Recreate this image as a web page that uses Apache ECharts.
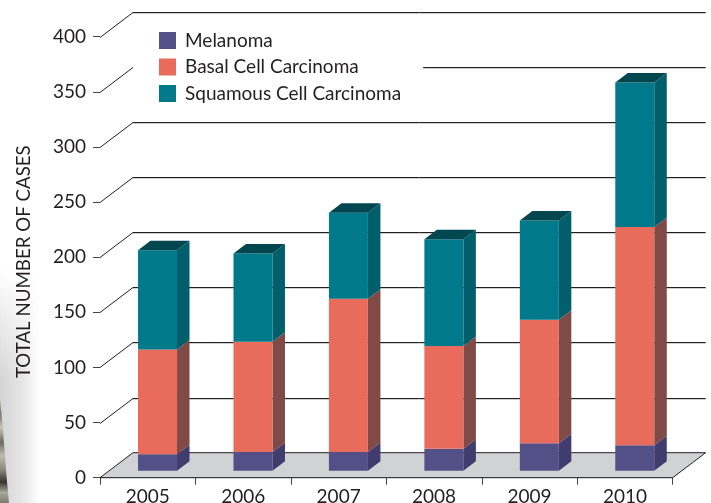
<!DOCTYPE html>
<html>
<head>
<meta charset="utf-8">
<style>html,body{margin:0;padding:0;background:#fff}#chart{width:711px;height:503px}</style>
<script src="https://cdn.jsdelivr.net/npm/echarts@6/dist/echarts.min.js"></script>
</head>
<body>
<div id="chart"></div>
<script>
const years = ['2005', '2006', '2007', '2008', '2009', '2010'];
const melanoma = [15, 17, 17, 20, 25, 23];
const basalCell = [95, 100, 139, 93, 112, 198];
const squamousCell = [90, 80, 78, 97, 90, 131];
const gridValues = [50, 100, 150, 200, 250, 300, 350, 400];

const FONT = 'Lato';
// Oblique projection of the chart box: full floor depth and single bar depth.
const FLOOR_DX = 33, FLOOR_DY = 25;
const BAR_DX = 12.5, BAR_DY = 9.5;
const BAR_W = 39, BAR_SHIFT_X = 9.8, BAR_SHIFT_Y = 7;

function stackRows(own, below) {
  return own.map((v, i) => {
    const start = below.reduce((s, arr) => s + arr[i], 0);
    return [i, start, start + v];
  });
}

function poly(points, fill) {
  return { type: 'polygon', shape: { points }, style: { fill, stroke: null } };
}

function barRenderer(front, side, top) {
  return function (params, api) {
    const c0 = api.coord([api.value(0), api.value(1)]);
    const c1 = api.coord([api.value(0), api.value(2)]);
    const xl = c0[0] + BAR_SHIFT_X - BAR_W / 2, xr = xl + BAR_W;
    const yb = c0[1] - BAR_SHIFT_Y, yt = c1[1] - BAR_SHIFT_Y;
    const children = [
      poly([[xr, yb], [xr + BAR_DX, yb - BAR_DY], [xr + BAR_DX, yt - BAR_DY], [xr, yt]], side),
      poly([[xl, yb], [xr, yb], [xr, yt], [xl, yt]], front)
    ];
    if (top) {
      children.push(poly([[xl, yt], [xr, yt], [xr + BAR_DX, yt - BAR_DY], [xl + BAR_DX, yt - BAR_DY]], top));
    }
    return { type: 'group', children };
  };
}

function barSeries(name, rows, front, side, top) {
  return {
    name, type: 'custom', data: rows, z: 5,
    itemStyle: { color: front },
    renderItem: barRenderer(front, side, top)
  };
}

function renderWallLine(params, api) {
  const box = params.coordSys;
  const y = Math.round(api.coord([0, api.value(0)])[1]) + 0.5;
  const x0 = box.x, x1 = box.x + FLOOR_DX, x2 = box.x + box.width + FLOOR_DX, yb = y - FLOOR_DY;
  return {
    type: 'group',
    children: [
      { type: 'polyline', shape: { points: [[x1, yb + 1], [x2, yb + 1]] }, style: { stroke: '#cfcfcf', lineWidth: 1, fill: null } },
      { type: 'polyline', shape: { points: [[x0, y], [x1, yb], [x2, yb]] }, style: { stroke: '#231f20', lineWidth: 1, fill: null } }
    ]
  };
}

function renderFloor(params, api) {
  const box = params.coordSys;
  const y = api.coord([0, 0])[1];
  const xl = box.x, xr = box.x + box.width;
  return {
    type: 'polygon',
    shape: { points: [[xl, y], [xl + FLOOR_DX, y - FLOOR_DY], [xr + FLOOR_DX, y - FLOOR_DY], [xr, y]] },
    style: { fill: '#d1d2d4', stroke: '#231f20', lineWidth: 1 }
  };
}

const chart = echarts.init(document.getElementById('chart'), null, { renderer: 'canvas' });
chart.setOption({
  animation: false,
  backgroundColor: '#fff',
  graphic: [
    // Soft paper shadow and the strip of photo along the lower left edge.
    { type: 'rect', silent: true, z: 0, shape: { x: 0, y: 270, width: 40, height: 233 },
      style: { fill: new echarts.graphic.LinearGradient(0, 0, 1, 0, [
        { offset: 0, color: '#d4d4d4' }, { offset: 0.55, color: '#e6e6e6' }, { offset: 1, color: '#ffffff' }]) } },
    { type: 'rect', silent: true, z: 0, shape: { x: 0, y: 270, width: 40, height: 110 },
      style: { fill: new echarts.graphic.LinearGradient(0, 0, 0, 1, [
        { offset: 0, color: 'rgba(255,255,255,1)' }, { offset: 1, color: 'rgba(255,255,255,0)' }]) } },
    { type: 'polygon', silent: true, z: 0, shape: { points: [[0, 398], [3, 430], [6, 470], [9, 503], [0, 503]] },
      style: { fill: new echarts.graphic.LinearGradient(0, 0, 0, 1, [
        { offset: 0, color: '#b9b8a8' }, { offset: 0.15, color: '#77766a' }, { offset: 0.28, color: '#c4c3b3' },
        { offset: 0.42, color: '#6e6d62' }, { offset: 0.55, color: '#bdbcac' }, { offset: 0.68, color: '#8a897c' },
        { offset: 0.8, color: '#35342e' }, { offset: 0.9, color: '#a9a89a' }, { offset: 1, color: '#7c7b6f' }]) } }
  ],
  legend: {
    data: ['Melanoma', 'Basal Cell Carcinoma', 'Squamous Cell Carcinoma'],
    orient: 'vertical',
    left: 133, top: 25,
    padding: [6, 22, 6, 26],
    backgroundColor: '#fff',
    itemWidth: 17, itemHeight: 17, itemGap: 7.5,
    icon: 'rect',
    selectedMode: false,
    textStyle: { fontFamily: FONT, fontSize: 19, lineHeight: 17, color: '#231f20', padding: [0, 0, 0, 4] }
  },
  grid: { left: 100, right: 38.3, top: 36.7, bottom: 25.3, outerBoundsMode: 'none' },
  xAxis: {
    type: 'category',
    data: years,
    axisLine: { lineStyle: { color: '#231f20', width: 1 } },
    axisTick: { show: true, length: 7, lineStyle: { color: '#444', width: 1 } },
    axisLabel: { fontFamily: FONT, fontSize: 19, color: '#231f20', margin: 10 }
  },
  yAxis: {
    type: 'value',
    min: 0, max: 400, interval: 50,
    name: 'TOTAL NUMBER OF CASES',
    nameLocation: 'middle',
    nameGap: 67,
    nameTextStyle: { fontFamily: FONT, fontSize: 18.7, color: '#231f20', padding: [0, 9, 0, 0] },
    axisLine: { show: false },
    axisTick: { show: true, length: 7, lineStyle: { color: '#444', width: 1 } },
    axisLabel: { fontFamily: FONT, fontSize: 19, color: '#231f20', margin: 14 },
    splitLine: { show: false }
  },
  series: [
    { name: 'floor', type: 'custom', z: 1, data: [[0]], renderItem: renderFloor },
    { name: 'walls', type: 'custom', z: 2, data: gridValues.map(v => [v]), renderItem: renderWallLine },
    barSeries('Melanoma', stackRows(melanoma, []), '#534f87', '#413c6e', null),
    barSeries('Basal Cell Carcinoma', stackRows(basalCell, [melanoma]), '#e86b5b', '#804a47', null),
    barSeries('Squamous Cell Carcinoma', stackRows(squamousCell, [melanoma, basalCell]), '#00798a', '#005f6b', '#02464f')
  ]
});
</script>
</body>
</html>
